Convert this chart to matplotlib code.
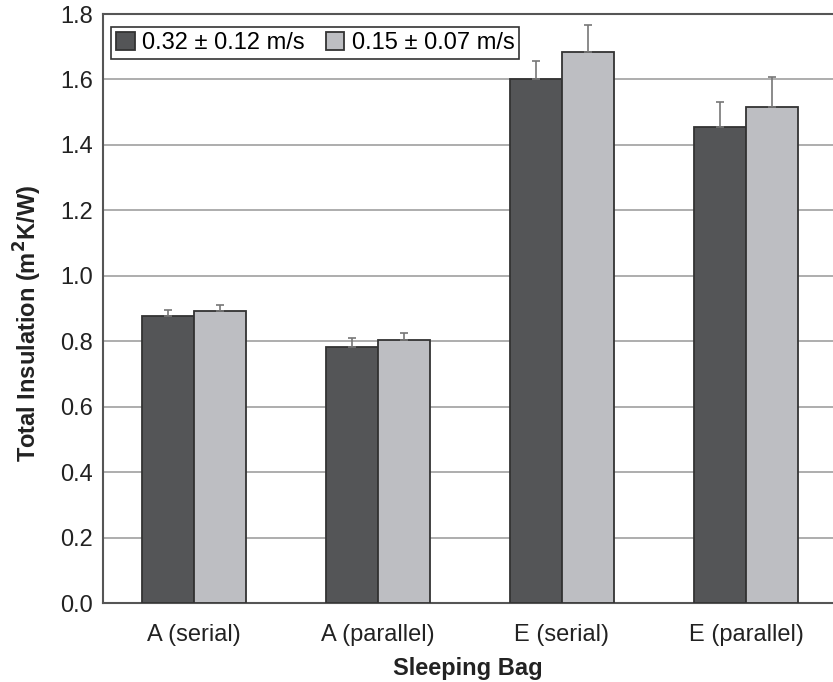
import matplotlib
matplotlib.use("Agg")
import matplotlib.pyplot as plt
import numpy as np

plt.rcParams['font.family'] = ['Liberation Sans', 'DejaVu Sans']

categories = ["A (serial)", "A (parallel)", "E (serial)", "E (parallel)"]
series_labels = ["0.32 \u00b1 0.12 m/s", "0.15 \u00b1 0.07 m/s"]
high_speed = [0.877, 0.782, 1.600, 1.456]
high_speed_err = [0.018, 0.029, 0.055, 0.075]
low_speed = [0.893, 0.805, 1.685, 1.517]
low_speed_err = [0.017, 0.020, 0.082, 0.092]
yticks = [0.0, 0.2, 0.4, 0.6, 0.8, 1.0, 1.2, 1.4, 1.6, 1.8]

dark = "#545557"
light = "#bdbec2"
edge = "#333333"
text_color = "#222222"

fig = plt.figure(figsize=(8.33, 6.82), dpi=100)
ax = fig.add_axes([0.1236, 0.1158, 0.8764, 0.8636])

x = np.arange(len(categories))
w = 0.283
err_kw = dict(ecolor="#777777", elinewidth=1.2, capsize=3, capthick=1.2)

ax.bar(x - w / 2, high_speed, w, color=dark, edgecolor=edge, linewidth=1.3,
       yerr=[np.zeros(len(x)), high_speed_err], error_kw=err_kw,
       label=series_labels[0], zorder=3)
ax.bar(x + w / 2, low_speed, w, color=light, edgecolor=edge, linewidth=1.3,
       yerr=[np.zeros(len(x)), low_speed_err], error_kw=err_kw,
       label=series_labels[1], zorder=3)

ax.set_xlim(-0.495, 3.473)
ax.set_ylim(0, 1.8)
ax.set_yticks(yticks)
ax.set_yticklabels([f"{t:.1f}" for t in yticks], fontsize=17, color=text_color)
ax.set_xticks(x)
ax.set_xticklabels(categories, fontsize=17, color=text_color)
ax.tick_params(axis="y", length=0, pad=7)
ax.tick_params(axis="x", length=0, pad=15)

ax.yaxis.grid(True, color="#a0a0a0", linewidth=1.2, zorder=0)
ax.set_axisbelow(True)

for side in ["left", "bottom", "top"]:
    ax.spines[side].set_color("#555555")
    ax.spines[side].set_linewidth(1.5)
ax.spines["right"].set_visible(False)

ax.set_ylabel("Total Insulation (m$^\\mathbf{2}$K/W)", fontsize=17,
              fontweight="bold", color=text_color, labelpad=12)
ax.yaxis.label.set_y(0.474)
ax.set_xlabel("Sleeping Bag", fontsize=17, fontweight="bold",
              color=text_color, labelpad=8)

leg = ax.legend(loc="upper left", bbox_to_anchor=(0.011, 0.978),
                borderaxespad=0, ncol=2, fontsize=17, frameon=True,
                fancybox=False, edgecolor="#333333", framealpha=1,
                handlelength=0.8, handleheight=0.8, handletextpad=0.3,
                columnspacing=0.9, borderpad=0.2)
leg.get_frame().set_linewidth(1.2)

fig.savefig("out.png", dpi=100)
